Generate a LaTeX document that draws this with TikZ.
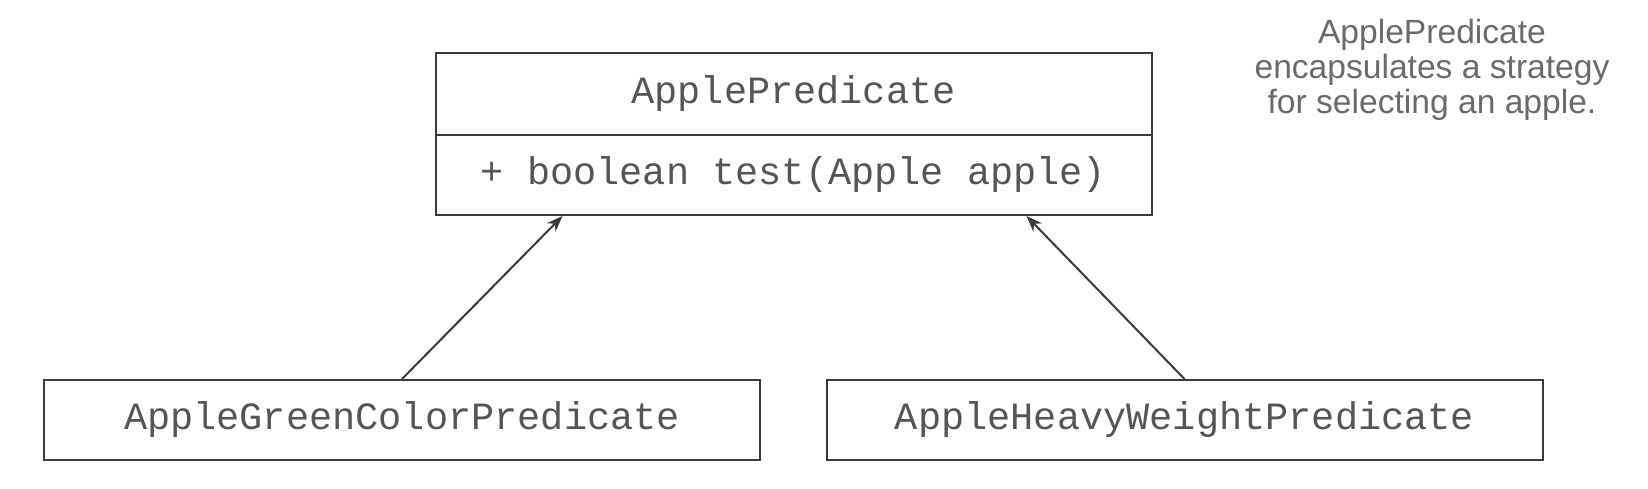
\documentclass[tikz,border=0pt]{standalone}
\usepackage{fontspec}
\setmainfont{Liberation Sans}
\setmonofont{Liberation Mono}
\usetikzlibrary{arrows.meta,calc}
\definecolor{boxline}{HTML}{3A3A3A}
\definecolor{boxtext}{HTML}{555555}
\definecolor{notetext}{HTML}{6A6A6A}
\tikzset{
  classbox/.style={draw=boxline, line width=1pt, rectangle, inner sep=0pt,
    minimum width=358pt, minimum height=40pt, text=boxtext,
    font=\fontsize{19.3pt}{22pt}\ttfamily},
  inherit/.style={draw=boxline, line width=1pt, -{Stealth[length=8pt,width=6pt]}},
  note/.style={align=center, text=notetext, font=\fontsize{16.8pt}{17.4pt}\selectfont}
}
\begin{document}
\begin{tikzpicture}[x=0.5pt,y=-0.5pt]
\useasboundingbox (0,0) rectangle (1648,488);
\node[classbox, minimum height=41pt] (name) at (793.5,94) {ApplePredicate};
\node[classbox] (method) at (793.5,175) {+ boolean test(Apple apple)};
\node[classbox] (green) at (402,420) {AppleGreenColorPredicate};
\node[classbox] (heavy) at (1184.5,420) {AppleHeavyWeightPredicate};
\node[note] (note) at (1432,70) {ApplePredicate\\encapsulates a strategy\\for selecting an apple.};
\coordinate (lt) at ($(method.south west)+(64pt,0)$);
\coordinate (rt) at ($(method.south east)+(-63pt,0)$);
\draw[inherit] (green.north) -- (lt);
\draw[inherit] (heavy.north) -- (rt);
\end{tikzpicture}
\end{document}
